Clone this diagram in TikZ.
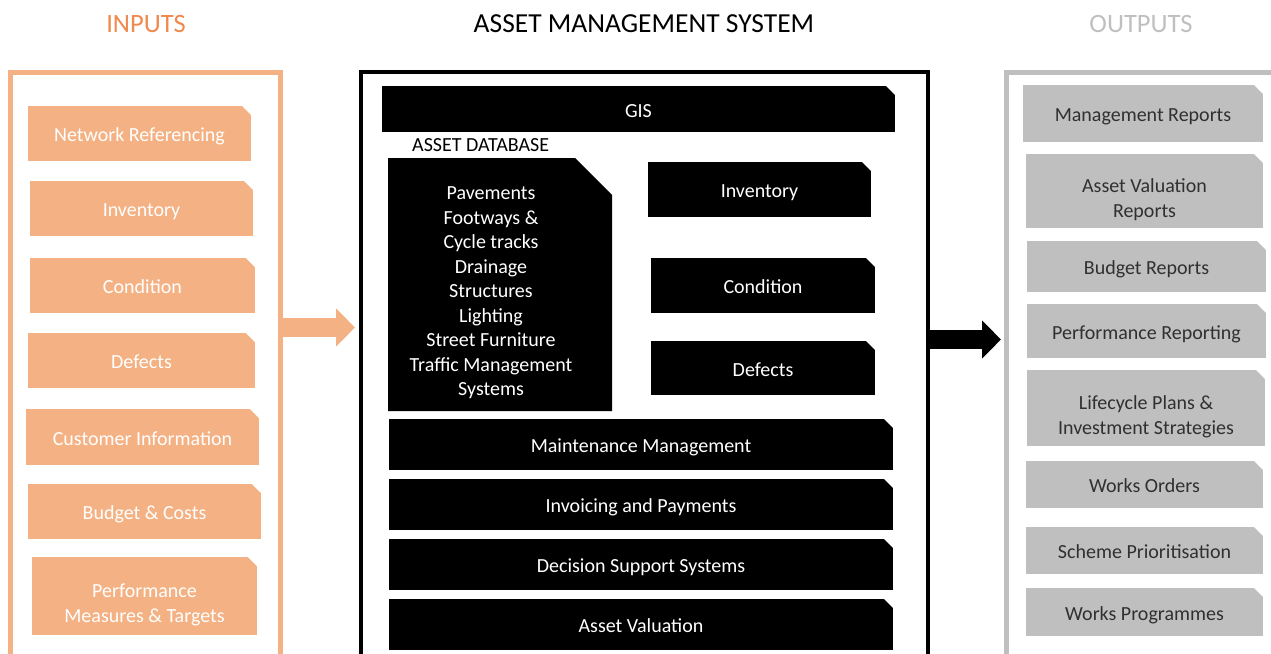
\documentclass[tikz,border=0pt]{standalone}
\usepackage{fontspec}
\setmainfont{Carlito}
\usetikzlibrary{arrows.meta}
\definecolor{inorange}{HTML}{F4B183}
\definecolor{intitle}{HTML}{F0894D}
\definecolor{outgray}{HTML}{BFBFBF}
\definecolor{outtext}{HTML}{303030}
\tikzset{
	cutcorner/.style={path picture={\fill[white] ([xshift=-#1]path picture bounding box.north east) -- (path picture bounding box.north east) -- ([yshift=-#1]path picture bounding box.north east) -- cycle;}},
	cutcorner/.default=9pt,
	cutbox/.style={inner sep=0pt, outer sep=0pt, align=center, font=\fontsize{20}{25}\selectfont, text height=16pt, text depth=0pt, cutcorner},
	twoline/.style={text height=56pt, text depth=4pt},
	inbox/.style={cutbox, fill=inorange, text=white},
	sysbox/.style={cutbox, fill=black, text=white},
	outbox/.style={cutbox, fill=outgray, text=outtext},
	framebox/.style={draw, line width=#1, inner sep=0pt, outer sep=0pt, minimum height=640pt, anchor=north},
	titletext/.style={font=\fontsize{26.5}{30}\selectfont},
	blockarrow/.style={line width=19pt, -{Triangle[length=19pt,width=37pt]}}
}
\begin{document}
\begin{tikzpicture}[x=1pt, y=-1pt]
	\path[use as bounding box] (0,0) rectangle (1271,653);
	\clip (0,0) rectangle (1271,653);
	% Ueberschriften
	\node[titletext, text=intitle] (intitle) at (146,24) {INPUTS};
	\node[titletext, font=\fontsize{27.5}{30}\selectfont] (systitle) at (644,24) {ASSET MANAGEMENT SYSTEM};
	\node[titletext, text=outgray] (outtitle) at (1141,24) {OUTPUTS};
	% Rahmen
	\node[framebox=5pt, draw=inorange, minimum width=270pt] (inframe) at (145,72) {};
	\node[framebox=4.5pt, draw=black, minimum width=567pt] (sysframe) at (644.5,72) {};
	\node[framebox=5pt, draw=outgray, minimum width=320pt, anchor=north west] (outframe) at (1006,72) {};
	% Pfeile
	\coordinate (intip) at (355,327.5);
	\draw[blockarrow, inorange] (inframe.east |- intip) -- (intip);
	\coordinate (outtip) at (1001,339.5);
	\draw[blockarrow, black] (sysframe.east |- outtip) -- (outtip);
	% Inputs
	\node[inbox, minimum width=223pt, minimum height=55pt] (netref) at (139.5,133.5) {Network Referencing};
	\node[inbox, minimum width=223pt, minimum height=55pt] (ininv) at (141.5,208.5) {Inventory};
	\node[inbox, minimum width=225pt, minimum height=55pt] (incond) at (142.5,285.5) {Condition};
	\node[inbox, minimum width=227pt, minimum height=55pt] (indef) at (141.5,360.5) {Defects};
	\node[inbox, minimum width=233pt, minimum height=56pt] (custinfo) at (142.5,437) {Customer Information};
	\node[inbox, minimum width=233pt, minimum height=55pt] (budget) at (144.5,511.5) {Budget \& Costs};
	\node[inbox, twoline, minimum width=225pt, minimum height=78pt] (perfmeas) at (144.5,596) {Performance\\Measures \& Targets};
	% Asset Management System
	\node[sysbox, minimum width=513pt, minimum height=46pt] (gis) at (638.5,109) {GIS};
	\node[anchor=west, inner sep=0pt, font=\fontsize{20}{24}\selectfont] (dblabel) at (412,145) {ASSET DATABASE};
	\fill (388,158) -- (575,158) -- (612,195) -- (612,411) -- (388,411) -- cycle;
	\node[align=center, text=white, font=\fontsize{20}{24.5}\selectfont] (assetdb) at (491,293) {Pavements\\Footways \&\\Cycle tracks\\Drainage\\Structures\\Lighting\\Street Furniture\\Traffic Management\\Systems};
	\node[sysbox, minimum width=223pt, minimum height=55pt] (sysinv) at (759.5,189.5) {Inventory};
	\node[sysbox, minimum width=224pt, minimum height=55pt] (syscond) at (763,285.5) {Condition};
	\node[sysbox, minimum width=224pt, minimum height=54pt] (sysdef) at (763,368) {Defects};
	\node[sysbox, minimum width=504pt, minimum height=51pt] (maint) at (641,444.5) {Maintenance Management};
	\node[sysbox, minimum width=504pt, minimum height=51pt] (invoice) at (641,504.5) {Invoicing and Payments};
	\node[sysbox, minimum width=504pt, minimum height=51pt] (decision) at (641,564.5) {Decision Support Systems};
	\node[sysbox, minimum width=504pt, minimum height=51pt] (valuation) at (641,624.5) {Asset Valuation};
	% Outputs
	\node[outbox, minimum width=240pt, minimum height=57pt] (mgmtrep) at (1143,113.5) {Management Reports};
	\node[outbox, twoline, minimum width=237pt, minimum height=74pt] (valrep) at (1144.5,191) {Asset Valuation\\Reports};
	\node[outbox, minimum width=239pt, minimum height=51pt] (budgetrep) at (1146.5,266.5) {Budget Reports};
	\node[outbox, minimum width=239pt, minimum height=54pt] (perfrep) at (1146.5,331) {Performance Reporting};
	\node[outbox, twoline, minimum width=238pt, minimum height=76pt] (lifecycle) at (1146,408) {Lifecycle Plans \&\\Investment Strategies};
	\node[outbox, minimum width=237pt, minimum height=47pt] (worksord) at (1144.5,484.5) {Works Orders};
	\node[outbox, minimum width=237pt, minimum height=47pt] (scheme) at (1144.5,550.5) {Scheme Prioritisation};
	\node[outbox, minimum width=237pt, minimum height=48pt] (worksprog) at (1144.5,612) {Works Programmes};
\end{tikzpicture}
\end{document}
